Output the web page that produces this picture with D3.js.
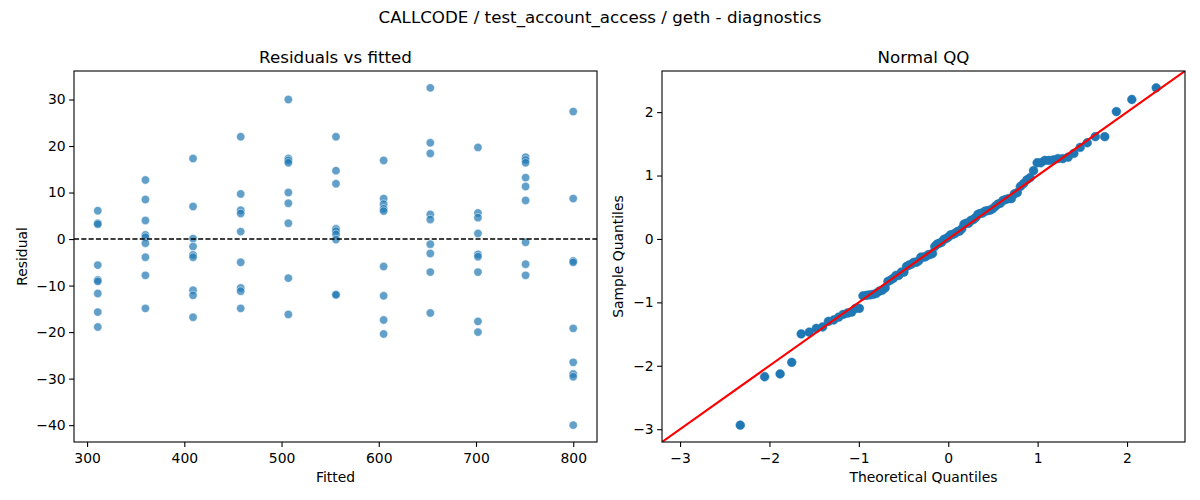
<!DOCTYPE html>
<html>
<head>
<meta charset="utf-8">
<script src="https://cdn.jsdelivr.net/npm/d3@7"></script>
<style>
  html, body { margin: 0; padding: 0; background: #fff; }
  svg { display: block; font-family: "DejaVu Sans", sans-serif; }
</style>
</head>
<body>
<svg id="chart" width="1200" height="500"></svg>
<script>
// ---- data ----
const suptitle = "CALLCODE / test_account_access / geth - diagnostics";
const fittedLevels = [311, 360, 409, 458, 507, 556, 605, 653, 702, 751, 800];
const residualsByLevel = [
  [6.1, 3.4, 3.2, -5.6, -8.8, -9.1, -11.7, -15.7, -18.9],
  [12.7, 8.5, 4.0, 0.9, 0.4, -0.9, -3.9, -7.8, -14.9],
  [17.3, 7.0, 0.1, -1.6, -3.4, -3.9, -11.0, -12.1, -16.8],
  [22.0, 9.7, 6.2, 5.5, 1.6, -5.0, -10.5, -11.2, -14.9],
  [30.0, 17.3, 16.9, 16.4, 10.0, 7.7, 3.4, -8.4, -16.2],
  [22.0, 14.7, 11.9, 2.2, 1.7, 1.0, -0.1, -11.9, -12.0],
  [16.9, 8.7, 7.5, 6.5, 6.0, -5.9, -12.2, -17.4, -20.4],
  [32.5, 20.7, 18.4, 5.3, 4.2, -1.1, -3.1, -7.1, -15.9],
  [19.7, 5.6, 4.6, 1.2, -3.3, -3.8, -7.1, -17.7, -20.0],
  [17.6, 17.0, 16.4, 13.2, 11.3, 8.3, -0.7, -5.4, -7.8],
  [27.4, 8.7, -4.7, -5.0, -19.2, -26.5, -29.0, -29.6, -40.0]
];
const leftXTicks = [300, 400, 500, 600, 700, 800];
const leftYTicks = [30, 20, 10, 0, -10, -20, -30, -40];
const qqTicks = [-3, -2, -1, 0, 1, 2];

// ---- helpers ----
function normInv(p) {
  // Acklam's inverse normal CDF
  const a = [-3.969683028665376e+01, 2.209460984245205e+02, -2.759285104469687e+02, 1.383577518672690e+02, -3.066479806614716e+01, 2.506628277459239e+00];
  const b = [-5.447609879822406e+01, 1.615858368580409e+02, -1.556989798598866e+02, 6.680131188771972e+01, -1.328068155288572e+01];
  const c = [-7.784894002430293e-03, -3.223964580411365e-01, -2.400758277161838e+00, -2.549732539343734e+00, 4.374664141464968e+00, 2.938163982698783e+00];
  const d = [7.784695709041462e-03, 3.224671290700398e-01, 2.445134137142996e+00, 3.754408661907416e+00];
  const pl = 0.02425, ph = 1 - pl;
  let q, r;
  if (p < pl) {
    q = Math.sqrt(-2 * Math.log(p));
    return (((((c[0]*q+c[1])*q+c[2])*q+c[3])*q+c[4])*q+c[5]) / ((((d[0]*q+d[1])*q+d[2])*q+d[3])*q+1);
  } else if (p <= ph) {
    q = p - 0.5; r = q * q;
    return (((((a[0]*r+a[1])*r+a[2])*r+a[3])*r+a[4])*r+a[5])*q / (((((b[0]*r+b[1])*r+b[2])*r+b[3])*r+b[4])*r+1);
  } else {
    q = Math.sqrt(-2 * Math.log(1 - p));
    return -(((((c[0]*q+c[1])*q+c[2])*q+c[3])*q+c[4])*q+c[5]) / ((((d[0]*q+d[1])*q+d[2])*q+d[3])*q+1);
  }
}
function padded(ext, frac) {
  const r = ext[1] - ext[0];
  return [ext[0] - r * frac, ext[1] + r * frac];
}

const points = [];
fittedLevels.forEach((f, i) => residualsByLevel[i].forEach(r => points.push({ fitted: f, resid: r })));

const svg = d3.select("#chart");
const C0 = "#1f77b4";
const tickFont = 13.9;

// suptitle
svg.append("text").attr("x", 600).attr("y", 23).attr("text-anchor", "middle")
  .attr("font-size", 16.7).attr("fill", "#000").text(suptitle);

function drawAxesFrame(g, x0, x1, y0, y1, xScale, yScale, xt, yt, xFmt, yFmt) {
  const xa = d3.axisBottom(xScale).tickValues(xt).tickSize(4.9).tickPadding(3.5).tickFormat(xFmt);
  const ya = d3.axisLeft(yScale).tickValues(yt).tickSize(4.9).tickPadding(3.5).tickFormat(yFmt);
  const gx = g.append("g").attr("transform", `translate(0,${y1})`).call(xa);
  const gy = g.append("g").attr("transform", `translate(${x0},0)`).call(ya);
  [gx, gy].forEach(a => {
    a.select(".domain").remove();
    a.selectAll("line").attr("stroke", "#000").attr("stroke-width", 1.1);
    a.selectAll("text").attr("font-size", tickFont).attr("fill", "#000")
      .attr("font-family", "DejaVu Sans, sans-serif");
  });
  gx.selectAll("text").attr("dy", "0.9em");
  g.append("rect").attr("x", x0).attr("y", y0).attr("width", x1 - x0).attr("height", y1 - y0)
    .attr("fill", "none").attr("stroke", "#000").attr("stroke-width", 1.1);
}
const minusFmt = d => (d < 0 ? "\u2212" + Math.abs(d) : String(d));

// ---- Left panel: residuals vs fitted ----
{
  const x0 = 74, x1 = 597, y0 = 71, y1 = 442;
  const xs = d3.scaleLinear().domain(padded(d3.extent(points, d => d.fitted), 0.05)).range([x0, x1]);
  const ys = d3.scaleLinear().domain(padded(d3.extent(points, d => d.resid), 0.05)).range([y1, y0]);
  const g = svg.append("g");
  const clipId = "clipL";
  svg.append("clipPath").attr("id", clipId).append("rect")
    .attr("x", x0).attr("y", y0).attr("width", x1 - x0).attr("height", y1 - y0);
  const plot = g.append("g").attr("clip-path", `url(#${clipId})`);
  plot.selectAll("circle").data(points).join("circle")
    .attr("cx", d => xs(d.fitted)).attr("cy", d => ys(d.resid)).attr("r", 4.2)
    .attr("fill", C0).attr("fill-opacity", 0.7)
    .attr("stroke", "#fff").attr("stroke-width", 0.7).attr("stroke-opacity", 0.7);
  plot.append("line").attr("x1", x0).attr("x2", x1).attr("y1", ys(0)).attr("y2", ys(0))
    .attr("stroke", "#000").attr("stroke-width", 1.4).attr("stroke-dasharray", "5.1,2.2");
  drawAxesFrame(g, x0, x1, y0, y1, xs, ys, leftXTicks, leftYTicks, d => String(d), minusFmt);
  g.append("text").attr("x", (x0 + x1) / 2).attr("y", 63).attr("text-anchor", "middle")
    .attr("font-size", 16.7).text("Residuals vs fitted");
  g.append("text").attr("x", (x0 + x1) / 2).attr("y", 482).attr("text-anchor", "middle")
    .attr("font-size", tickFont).text("Fitted");
  g.append("text").attr("transform", `translate(27,${(y0 + y1) / 2}) rotate(-90)`)
    .attr("text-anchor", "middle").attr("font-size", tickFont).text("Residual");
}

// ---- Right panel: Normal QQ ----
{
  const x0 = 662, x1 = 1185, y0 = 71, y1 = 442;
  const resid = points.map(d => d.resid).sort((a, b) => a - b);
  const n = resid.length;
  const mu = d3.mean(resid);
  const sd = Math.sqrt(d3.mean(resid, v => (v - mu) * (v - mu)));
  const qq = resid.map((v, i) => ({ t: normInv((i + 1) / (n + 1)), s: (v - mu) / sd }));
  const xl = padded(d3.extent(qq, d => d.t), 0.05);
  const yl = padded(d3.extent(qq, d => d.s), 0.05);
  const lim = [Math.min(xl[0], yl[0]), Math.max(xl[1], yl[1])];
  const xs = d3.scaleLinear().domain(lim).range([x0, x1]);
  const ys = d3.scaleLinear().domain(lim).range([y1, y0]);
  const g = svg.append("g");
  svg.append("clipPath").attr("id", "clipR").append("rect")
    .attr("x", x0).attr("y", y0).attr("width", x1 - x0).attr("height", y1 - y0);
  const plot = g.append("g").attr("clip-path", "url(#clipR)");
  plot.selectAll("circle").data(qq).join("circle")
    .attr("cx", d => xs(d.t)).attr("cy", d => ys(d.s)).attr("r", 4.4)
    .attr("fill", C0).attr("stroke", C0).attr("stroke-width", 0.5);
  plot.append("line").attr("x1", xs(lim[0])).attr("y1", ys(lim[0]))
    .attr("x2", xs(lim[1])).attr("y2", ys(lim[1]))
    .attr("stroke", "#ff0000").attr("stroke-width", 2.1);
  drawAxesFrame(g, x0, x1, y0, y1, xs, ys, qqTicks, qqTicks, minusFmt, minusFmt);
  g.append("text").attr("x", (x0 + x1) / 2).attr("y", 63).attr("text-anchor", "middle")
    .attr("font-size", 16.7).text("Normal QQ");
  g.append("text").attr("x", (x0 + x1) / 2).attr("y", 482).attr("text-anchor", "middle")
    .attr("font-size", tickFont).text("Theoretical Quantiles");
  g.append("text").attr("transform", `translate(623,${(y0 + y1) / 2}) rotate(-90)`)
    .attr("text-anchor", "middle").attr("font-size", tickFont).text("Sample Quantiles");
}
</script>
</body>
</html>
